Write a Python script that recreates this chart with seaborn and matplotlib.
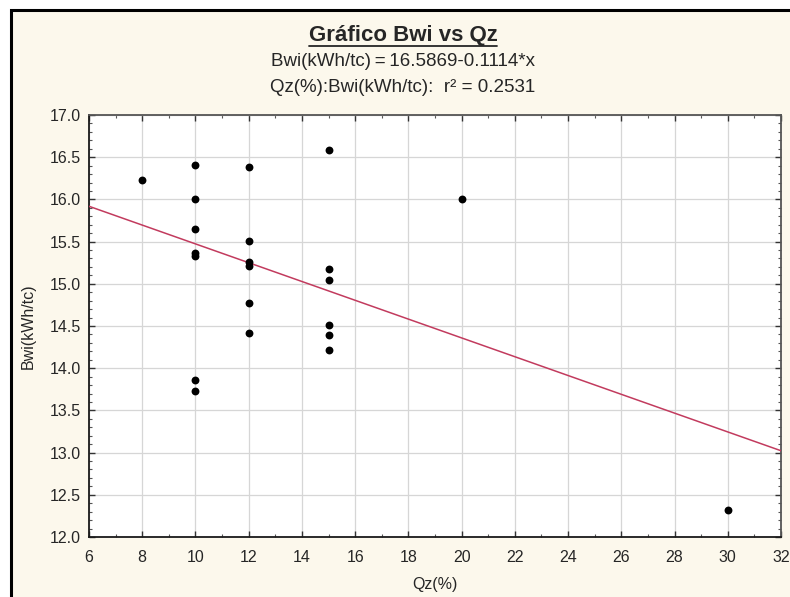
import numpy as np
import pandas as pd
import matplotlib
matplotlib.use("Agg")
import matplotlib.pyplot as plt
from matplotlib.patches import Rectangle
from matplotlib.ticker import MultipleLocator
import seaborn as sns

# Observations: quartz content (%) vs Bond work index (kWh/tc)
qz = [8, 10, 10, 10, 10, 10, 10, 10, 12, 12, 12, 12, 12, 12,
      15, 15, 15, 15, 15, 15, 20, 30]
bwi = [16.23, 16.41, 16.00, 15.65, 15.36, 15.33, 13.86, 13.73,
       16.38, 15.51, 15.26, 15.21, 14.77, 14.42,
       16.59, 15.17, 15.05, 14.51, 14.39, 14.21, 16.00, 12.32]

# Fitted linear model
intercept = 16.5869
slope = -0.1114
r2 = 0.2531

x_ticks = list(range(6, 33, 2))
y_ticks = [12.0, 12.5, 13.0, 13.5, 14.0, 14.5, 15.0, 15.5, 16.0, 16.5, 17.0]

sns.set_theme(style="whitegrid")
plt.rcParams["font.family"] = ["Liberation Sans", "DejaVu Sans"]

text_color = "#262626"
cream = "#fcf8ec"

fig = plt.figure(figsize=(7.9, 5.97), dpi=100)
fig.patch.set_facecolor("white")

# Framed cream panel behind the chart
frame = Rectangle((11 / 790, -0.02), 1.0, 1 - 10 / 597 + 0.02,
                  transform=fig.transFigure, facecolor=cream,
                  edgecolor="black", linewidth=2.2, zorder=-5)
fig.patches.append(frame)

ax = fig.add_axes([89 / 790, 1 - 537 / 597, (781 - 89) / 790, (537 - 115) / 597])
ax.set_zorder(2)
ax.set_facecolor("white")

df = pd.DataFrame({"Qz(%)": qz, "Bwi(kWh/tc)": bwi})
sns.scatterplot(data=df, x="Qz(%)", y="Bwi(kWh/tc)", ax=ax, color="black",
                s=32, edgecolor="black", linewidth=0, zorder=4)

# Regression line across the full x range
fit_x = np.array([x_ticks[0], x_ticks[-1]], dtype=float)
fit = pd.DataFrame({"x": fit_x, "y": intercept + slope * fit_x})
sns.lineplot(data=fit, x="x", y="y", ax=ax, color="#c23b5e", linewidth=1.1,
             zorder=3)

ax.set_xlim(x_ticks[0], x_ticks[-1])
ax.set_ylim(y_ticks[0], y_ticks[-1])
ax.set_xticks(x_ticks)
ax.set_yticks(y_ticks)
ax.set_yticklabels([f"{v:.1f}" for v in y_ticks])
ax.xaxis.set_minor_locator(MultipleLocator(1))
ax.yaxis.set_minor_locator(MultipleLocator(0.1))

ax.grid(True, which="major", color="#d6d6d6", linewidth=0.9)
ax.grid(False, which="minor")
for side, sp in ax.spines.items():
    sp.set_visible(True)
    sp.set_linewidth(1.3)
    sp.set_color("#1a1a1a" if side in ("left", "bottom") else "#555555")

ax.tick_params(which="major", direction="in", length=4, width=1,
               color="#333333", top=True, right=True, bottom=True, left=True,
               labelsize=11.5, labelcolor=text_color)
ax.tick_params(axis="x", which="major", pad=9)
ax.tick_params(axis="y", which="major", pad=6)
ax.tick_params(which="minor", direction="in", length=2, width=0.8,
               color="#555555", top=True, right=True, bottom=True, left=True)

ax.set_xlabel("Qz(%)", fontsize=11.5, color=text_color, labelpad=9)
ax.set_ylabel("Bwi(kWh/tc)", fontsize=11.5, color=text_color, labelpad=10)

cx = 403 / 790
fig.text(cx, 1 - 36 / 597, "Gráfico Bwi vs Qz", ha="center", va="center",
         fontsize=16, fontweight="bold", color=text_color)
fig.text(cx, 1 - 62 / 597,
         f"Bwi(kWh/tc)\u2009=\u2009{intercept:.4f}{slope:.4f}*x",
         ha="center", va="center", fontsize=13.5, color=text_color)
fig.text(cx, 1 - 88 / 597, f"Qz(%):Bwi(kWh/tc):  r² = {r2:.4f}",
         ha="center", va="center", fontsize=13.5, color=text_color)

# Underline under the title
fig.canvas.draw()
title_txt = fig.texts[0]
bb = title_txt.get_window_extent()
inv = fig.transFigure.inverted()
(x0, y0), (x1, _) = inv.transform([(bb.x0, bb.y0), (bb.x1, bb.y1)])
fig.add_artist(plt.Line2D([x0, x1], [y0 + 0.001, y0 + 0.001],
                          transform=fig.transFigure, color=text_color,
                          linewidth=1.3))

fig.savefig("out.png", dpi=100, facecolor=fig.get_facecolor())
